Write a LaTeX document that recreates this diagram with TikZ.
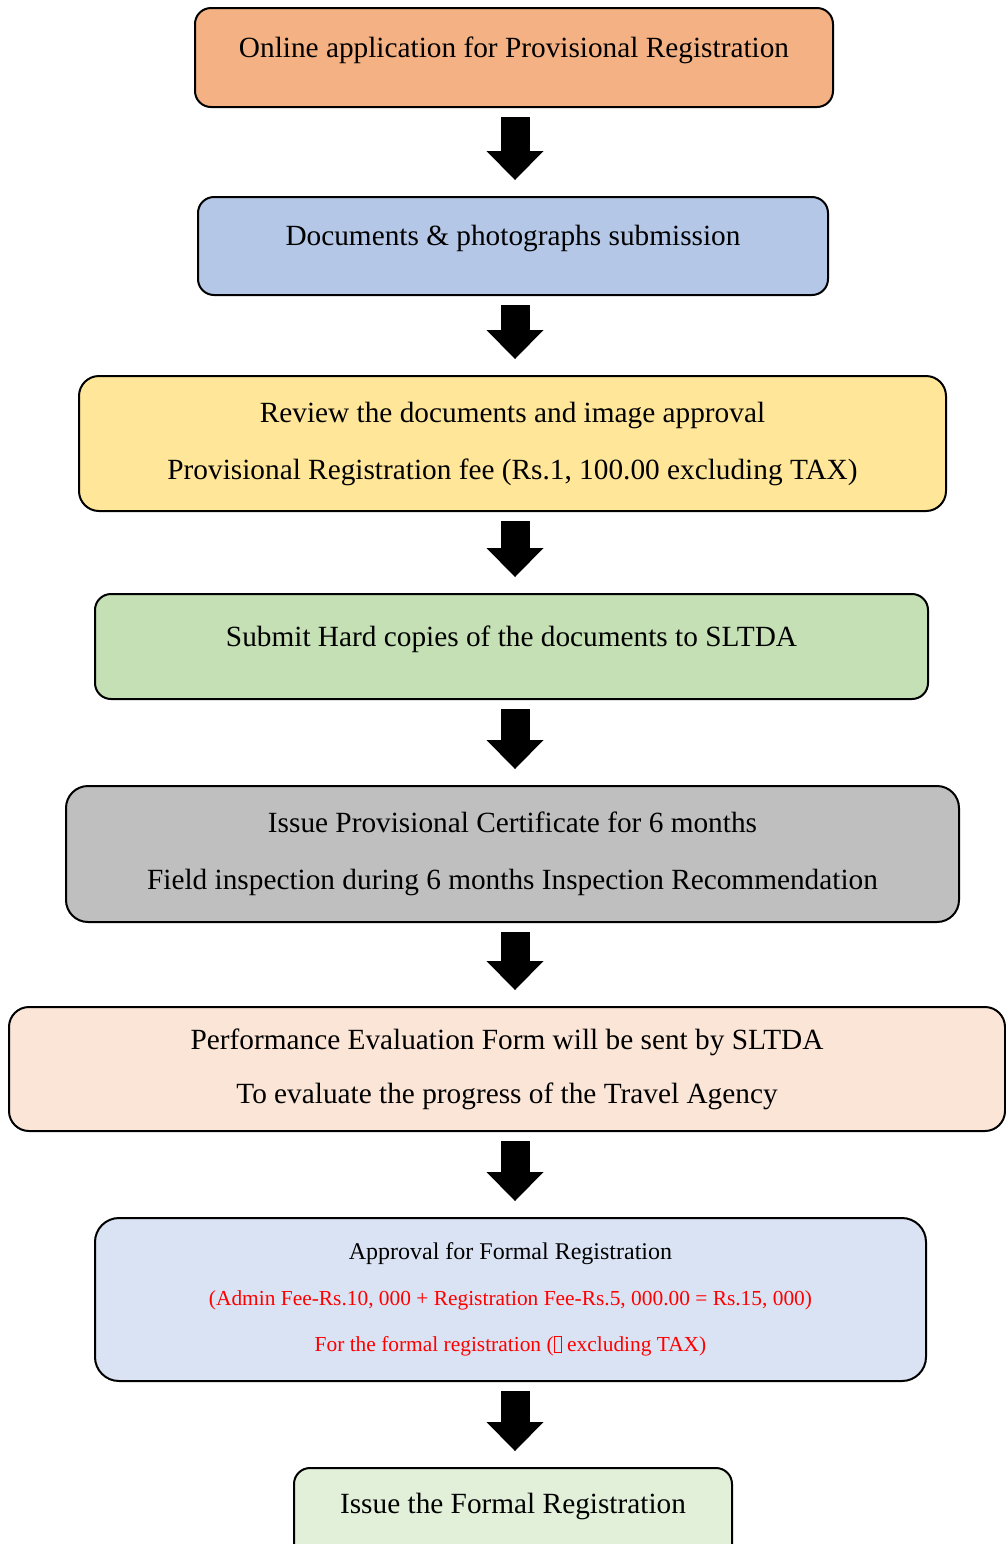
\documentclass[tikz,border=0pt]{standalone}
\usepackage{fontspec}
\setmainfont{Liberation Serif}
\usetikzlibrary{arrows.meta,calc}
\definecolor{onlinefill}{HTML}{F4B183}
\definecolor{docsfill}{HTML}{B4C7E7}
\definecolor{reviewfill}{HTML}{FFE699}
\definecolor{hardcopyfill}{HTML}{C5E0B4}
\definecolor{provfill}{HTML}{BFBFBF}
\definecolor{evalfill}{HTML}{FBE5D6}
\definecolor{approvalfill}{HTML}{DAE3F3}
\definecolor{formalfill}{HTML}{E2F0D9}
\newcommand{\missingglyph}{{\setlength{\fboxsep}{0pt}\setlength{\fboxrule}{0.3pt}\fbox{\rule{0pt}{7.5pt}\hspace{3.5pt}}}}
\tikzset{%
  stage/.style={rectangle,draw=black,line width=1pt,rounded corners=8pt,align=center,inner sep=0pt,font=\fontsize{14.65}{28.5}\selectfont},
  oneline/.style={text height=10pt,text depth=10.5pt},
  flow/.style={line width=14.5pt,-{Triangle[width=28.5pt,length=14.5pt,line width=0pt]}}%
}
\begin{document}
\begin{tikzpicture}[x=0.5pt,y=-0.5pt]
      \path[use as bounding box,clip] (0,0) rectangle (1006,1544);
      \coordinate (spine) at (515,0);

      \node (online) [stage,oneline,fill=onlinefill,minimum width=319pt,minimum height=49.5pt] at (514,57.5) {Online application for Provisional Registration};
      \node (docs) [stage,oneline,fill=docsfill,minimum width=315pt,minimum height=49pt] at (513,246) {Documents \& photographs submission};
      \node (review) [stage,fill=reviewfill,minimum width=433.5pt,minimum height=67.5pt,rounded corners=10pt] at (512.5,443.5) {Review the documents and image approval\\Provisional Registration fee (Rs.1, 100.00 excluding TAX)};
      \node (hardcopy) [stage,oneline,fill=hardcopyfill,minimum width=416.5pt,minimum height=52.5pt] at (511.5,646.5) {Submit Hard copies of the documents to SLTDA};
      \node (provcert) [stage,fill=provfill,minimum width=446.5pt,minimum height=68pt,rounded corners=11pt] at (512.5,854) {Issue Provisional Certificate for 6 months\\Field inspection during 6 months Inspection Recommendation};
      \node (evaluation) [stage,fill=evalfill,minimum width=498pt,minimum height=62pt,rounded corners=10pt,font=\fontsize{14.65}{27}\selectfont] at (507,1069) {Performance Evaluation Form will be sent by SLTDA\\To evaluate the progress of the Travel Agency};
      \node (approval) [stage,fill=approvalfill,minimum width=415.5pt,minimum height=81.5pt,rounded corners=12pt,font=\fontsize{12}{23}\selectfont] at (510.5,1299.5) {Approval for Formal Registration\\{\fontsize{10.7}{23}\selectfont\color{red}(Admin Fee-Rs.10, 000 + Registration Fee-Rs.5, 000.00 = Rs.15, 000)}\\{\fontsize{10.7}{23}\selectfont\color{red}For the formal registration (\missingglyph{} excluding TAX)}};
      \node (formal) [stage,oneline,fill=formalfill,minimum width=219pt,minimum height=50pt,text depth=15pt] at (513,1518) {Issue the Formal Registration};

      % block arrows between the stages
      \foreach \a/\b in {online/docs,docs/review,review/hardcopy,hardcopy/provcert,provcert/evaluation,evaluation/approval,approval/formal}
        \draw[flow] ($(\a.south -| spine)+(0,9)$) -- ($(\b.north -| spine)+(0,-16)$);
\end{tikzpicture}
\end{document}
